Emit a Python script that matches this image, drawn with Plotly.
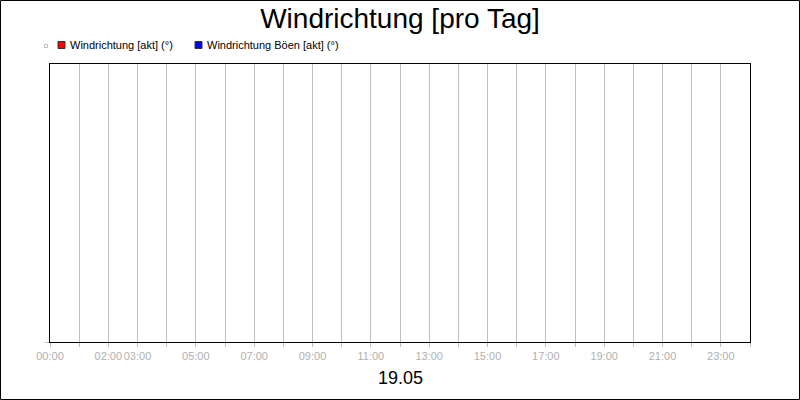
import plotly.graph_objects as go

# chart data: the day shown and hour ticks (series are empty in the source)
day_label = "19.05"
hours = list(range(0, 25))
tick_hours = [0, 2, 3, 5, 7, 9, 11, 13, 15, 17, 19, 21, 23]
tick_labels = ["%02d:00" % h for h in tick_hours]
series_names = ["Windrichtung [akt] (°)", "Windrichtung Böen [akt] (°)"]
series_colors = ["#ff0000", "#0000ff"]
wind_dir_time = []
wind_dir = []
gust_dir_time = []
gust_dir = []

# plot area in pixels (800x400 canvas)
L, R, T, B = 50, 750, 64, 342
W, H = R - L, B - T


def px(x):
    return (x - L) / W


def py(y):
    return (B - y) / H


fig = go.Figure()
fig.add_trace(go.Scatter(x=wind_dir_time, y=wind_dir, mode="lines",
                         name=series_names[0], line=dict(color=series_colors[0])))
fig.add_trace(go.Scatter(x=gust_dir_time, y=gust_dir, mode="lines",
                         name=series_names[1], line=dict(color=series_colors[1])))

shapes = []
# outer frame
shapes.append(dict(type="rect", xref="paper", yref="paper",
                   x0=px(0.5), x1=px(799.5), y0=py(399.5), y1=py(0.5),
                   line=dict(color="black", width=1)))
# tiny grey marker in front of legend
shapes.append(dict(type="rect", xref="paper", yref="paper",
                   x0=px(44.5), x1=px(47.5), y0=py(47.5), y1=py(44.5),
                   line=dict(color="#c0c0c0", width=1)))

annotations = []
legend_boxes = [58, 195]
for name, color, x0 in zip(series_names, series_colors, legend_boxes):
    shapes.append(dict(type="rect", xref="paper", yref="paper",
                       x0=px(x0), x1=px(x0 + 7), y0=py(48.5), y1=py(41.5),
                       fillcolor=color, line=dict(color="#333333", width=1)))
    annotations.append(dict(text=name, xref="paper", yref="paper",
                            x=px(x0 + 10), y=py(45), xanchor="left", yanchor="middle",
                            showarrow=False, font=dict(size=11, color="black")))

annotations.append(dict(text=day_label, xref="paper", yref="paper",
                        x=px(400), y=py(378), xanchor="center", yanchor="middle",
                        showarrow=False, font=dict(size=18, color="black")))

fig.update_layout(
    width=800, height=400,
    margin=dict(l=L, r=800 - R, t=T, b=400 - B),
    paper_bgcolor="white", plot_bgcolor="white",
    font=dict(family="Liberation Sans, Arial, sans-serif"),
    title=dict(text="Windrichtung [pro Tag]", x=0.5, xanchor="center",
               y=1 - 18 / 400, yanchor="middle",
               font=dict(size=28, color="black")),
    showlegend=False,
    shapes=shapes,
    annotations=annotations,
    xaxis=dict(range=[0, 24], tickvals=tick_hours, ticktext=tick_labels,
               tickangle=0,
               showgrid=True, gridcolor="#c0c0c0", gridwidth=1,
               ticks="outside", ticklen=4, tickcolor="#c0c0c0",
               tickfont=dict(size=11, color="#b0b0b0"),
               minor=dict(tickvals=hours, showgrid=True, gridcolor="#c0c0c0",
                          ticks="outside", ticklen=4, tickcolor="#c0c0c0"),
               showline=True, linecolor="black", linewidth=1, mirror=True,
               zeroline=False, fixedrange=True),
    yaxis=dict(range=[0, 360], tickvals=[0], ticktext=[""],
               showgrid=False, ticks="outside", ticklen=4, tickcolor="#c0c0c0",
               showline=True, linecolor="black", linewidth=1, mirror=True,
               zeroline=False, fixedrange=True),
)

fig.write_html("out.html", config={"displayModeBar": False},
               post_script="document.body.style.margin='0';")
